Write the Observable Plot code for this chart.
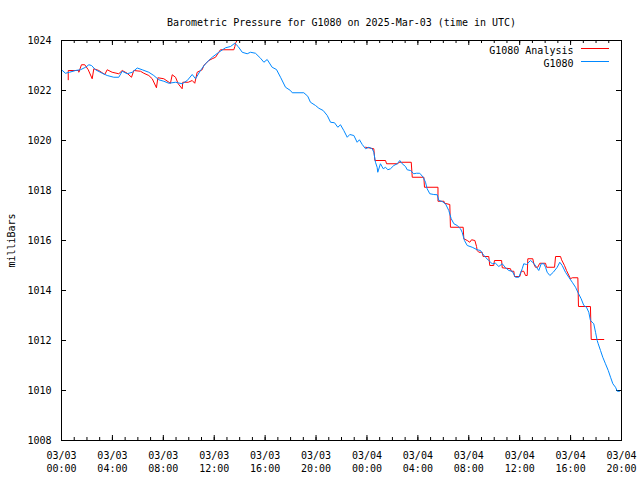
<!DOCTYPE html>
<html><head><meta charset="utf-8">
<script src="https://cdn.jsdelivr.net/npm/d3@7"></script>
<script src="https://cdn.jsdelivr.net/npm/@observablehq/plot@0.6"></script>
<style>body{margin:0;background:#fff}svg{display:block}</style>
</head><body><div id="chart"></div>
<script>
const title = "Barometric Pressure for G1080 on 2025-Mar-03 (time in UTC)";
const yLabel = "milliBars";
const seriesNames = ["G1080 Analysis", "G1080"];
const seriesColors = ["#ff0000", "#0088ff"];
const startTime = Date.UTC(2025, 2, 3, 0, 0);
const endHour = 44;
const yTicks = [1008, 1010, 1012, 1014, 1016, 1018, 1020, 1022, 1024];

// [hours since 03/03 00:00 UTC, millibars]
const g1080 = [
[0.00,1022.83],[0.31,1022.69],[0.63,1022.73],[1.10,1022.80],[1.49,1022.83],[1.89,1022.93],[2.15,1023.03],[2.36,1023.00],
[2.67,1022.83],[3.20,1022.69],[3.59,1022.60],[4.11,1022.53],[4.50,1022.53],[4.77,1022.77],[5.16,1022.67],[5.56,1022.73],
[5.95,1022.90],[6.34,1022.83],[6.86,1022.73],[7.25,1022.60],[7.64,1022.43],[8.04,1022.37],[8.43,1022.29],[8.96,1022.33],
[9.48,1022.27],[9.88,1022.40],[10.27,1022.64],[10.53,1022.47],[10.92,1022.80],[11.31,1023.07],[11.84,1023.33],[12.36,1023.53],
[12.89,1023.71],[13.28,1023.76],[13.62,1023.89],[13.88,1023.76],[14.20,1023.53],[14.59,1023.47],[14.85,1023.53],[15.24,1023.49],
[15.64,1023.29],[15.90,1023.13],[16.16,1023.24],[16.55,1022.93],[16.89,1022.84],[17.21,1022.53],[17.60,1022.13],[17.99,1022.00],
[18.13,1021.91],[19.04,1021.91],[19.35,1021.77],[19.56,1021.53],[19.96,1021.40],[20.22,1021.29],[20.56,1021.20],[20.88,1021.00],
[21.14,1020.73],[21.45,1020.71],[21.71,1020.53],[21.92,1020.63],[22.18,1020.40],[22.45,1020.13],[22.65,1020.24],[22.97,1020.20],
[23.23,1019.93],[23.41,1020.03],[23.63,1019.84],[23.89,1019.67],[24.15,1019.73],[24.41,1019.67],[24.54,1019.53],[24.67,1019.13],
[24.80,1018.93],[24.85,1018.73],[25.06,1019.07],[25.28,1018.87],[25.46,1018.93],[25.64,1018.83],[25.85,1018.87],[26.11,1019.00],
[26.38,1019.07],[26.58,1019.20],[26.77,1019.07],[27.03,1018.96],[27.16,1018.83],[27.42,1018.80],[27.68,1018.67],[27.89,1018.69],
[28.15,1018.69],[28.42,1018.53],[28.60,1018.33],[28.73,1018.07],[28.94,1017.87],[29.25,1017.84],[29.52,1017.83],[29.65,1017.60],
[29.91,1017.56],[30.17,1017.47],[30.43,1017.20],[30.62,1016.87],[30.83,1016.67],[31.09,1016.60],[31.35,1016.47],[31.48,1016.33],
[31.66,1016.00],[31.88,1015.80],[32.27,1015.73],[32.66,1015.63],[32.92,1015.60],[33.05,1015.49],[33.31,1015.33],[33.57,1015.20],
[33.84,1015.07],[34.10,1015.09],[34.36,1014.96],[34.63,1015.07],[34.89,1014.91],[35.15,1014.80],[35.41,1014.77],[35.67,1014.53],
[35.93,1014.53],[36.20,1014.87],[36.32,1015.07],[36.54,1015.04],[36.85,1015.20],[37.11,1015.09],[37.32,1014.93],[37.50,1014.80],
[37.69,1015.07],[37.90,1015.07],[38.03,1014.93],[38.16,1014.73],[38.37,1014.60],[38.64,1014.73],[38.95,1014.93],[39.15,1015.13],
[39.34,1015.00],[39.60,1014.73],[39.86,1014.53],[40.13,1014.33],[40.39,1014.13],[40.57,1013.93],[40.83,1013.67],[41.04,1013.40],
[41.25,1013.33],[41.43,1013.13],[41.56,1012.80],[41.82,1012.67],[41.96,1012.33],[42.09,1012.00],[42.17,1011.87],[42.35,1011.60],
[42.53,1011.33],[42.74,1011.07],[42.96,1010.80],[43.14,1010.53],[43.32,1010.27],[43.53,1010.13],[43.67,1009.97],[43.84,1009.97]
];

// analysis trace; null pressure = gap in the record
const g1080Analysis = [
[0.53,1022.43],[0.53,1022.80],[1.36,1022.80],[1.36,1022.73],[1.57,1023.03],[1.83,1023.03],[2.10,1022.83],[2.41,1022.47],
[2.54,1022.87],[2.93,1022.80],[3.40,1022.64],[3.59,1022.83],[3.98,1022.73],[4.50,1022.67],[4.77,1022.80],[5.16,1022.69],
[5.50,1022.53],[5.68,1022.80],[6.21,1022.77],[6.47,1022.69],[6.86,1022.60],[7.13,1022.47],[7.46,1022.11],[7.57,1022.51],
[8.04,1022.47],[8.56,1022.29],[8.70,1022.63],[8.96,1022.53],[9.17,1022.27],[9.48,1022.07],[9.53,1022.33],[9.96,1022.33],
[10.27,1022.40],[10.47,1022.29],[10.66,1022.73],[11.05,1022.83],[11.18,1023.00],[11.57,1023.20],[11.84,1023.27],[12.10,1023.33],
[12.36,1023.53],[12.49,1023.63],[13.54,1023.63],[13.62,1023.76],[13.67,1023.89],[13.79,1024.00],
[18.00,null],
[23.89,1019.73],[24.54,1019.67],[24.62,1019.20],[25.46,1019.20],[25.54,1019.07],[26.43,1019.07],[26.51,1019.13],[27.48,1019.13],
[27.56,1018.53],[28.47,1018.53],[28.52,1018.13],[29.58,1018.13],[29.58,1017.57],[30.05,1017.57],[30.10,1017.49],[30.51,1017.44],
[30.56,1016.53],[31.56,1016.53],[31.61,1016.07],[31.88,1016.00],[32.08,1015.93],[32.22,1016.03],[32.48,1016.00],[32.61,1015.76],
[32.66,1015.60],[32.79,1015.53],[33.05,1015.53],[33.13,1015.36],[33.57,1015.36],[33.65,1015.00],[33.96,1015.00],[34.02,1015.20],
[34.58,1015.20],[34.63,1014.91],[35.28,1014.87],[35.33,1014.77],[35.54,1014.77],[35.59,1014.56],[36.01,1014.56],[36.12,1014.77],
[36.32,1014.77],[36.46,1014.60],[36.59,1014.60],[36.64,1015.27],[37.03,1015.27],[37.11,1015.07],[37.24,1014.93],[37.42,1014.93],
[37.58,1015.09],[38.03,1015.09],[38.11,1014.93],[38.74,1014.93],[38.82,1015.36],[39.21,1015.36],[39.29,1015.23],[39.52,1015.00],
[39.68,1014.80],[39.99,1014.47],[40.13,1014.51],[40.57,1014.51],[40.62,1013.36],[41.56,1013.36],[41.62,1012.04],[42.61,1012.04]
];

const toDate = h => new Date(startTime + h * 3600e3);
const stationData = g1080.map(([h, p]) => ({t: toDate(h), p}));
const analysisData = g1080Analysis.map(([h, p]) => ({t: toDate(h), p: p == null ? NaN : p}));

const W = 640, H = 480, mL = 61, mR = 19, mT = 40, mB = 40;
const fw = W - mL - mR, fh = H - mT - mB;
const hourTicks = d3.range(0, endHour + 1).map(toDate);
const majorTicks = d3.range(0, endHour + 1, 4).map(toDate);
const font = "'DejaVu Sans Mono', monospace";

const plot = Plot.plot({
  width: W, height: H,
  marginLeft: mL, marginRight: mR, marginTop: mT, marginBottom: mB,
  style: {fontFamily: font, fontSize: "10px", background: "#fff", color: "#000"},
  x: {type: "utc", domain: [toDate(0), toDate(endHour)]},
  y: {domain: [1008, 1024]},
  marks: [
    Plot.axisX({ticks: majorTicks, tickFormat: d3.utcFormat("%m/%d\n%H:%M"), tickSize: 0, tickPadding: 9, lineHeight: 1.3, label: null, fontSize: 10}),
    Plot.axisY({ticks: yTicks, tickFormat: d3.format("d"), tickSize: 0, tickPadding: 10, label: yLabel, labelAnchor: "center", labelOffset: 54, labelArrow: "none", fontSize: 10}),
    // inward ticks on all four sides
    Plot.tickX(hourTicks, {x: d => d, insetTop: fh - 3, stroke: "#000"}),
    Plot.tickX(hourTicks, {x: d => d, insetBottom: fh - 3, stroke: "#000"}),
    Plot.tickX(majorTicks, {x: d => d, insetTop: fh - 5, stroke: "#000"}),
    Plot.tickX(majorTicks, {x: d => d, insetBottom: fh - 5, stroke: "#000"}),
    Plot.tickY(yTicks, {y: d => d, insetRight: fw - 5, stroke: "#000"}),
    Plot.tickY(yTicks, {y: d => d, insetLeft: fw - 5, stroke: "#000"}),
    Plot.line(analysisData, {x: "t", y: "p", stroke: seriesColors[0], strokeWidth: 1, clip: true}),
    Plot.line(stationData, {x: "t", y: "p", stroke: seriesColors[1], strokeWidth: 1, clip: true}),
    Plot.frame({stroke: "#000"}),
    Plot.text([title], {text: d => d, frameAnchor: "top", dy: -22, fontSize: 10}),
    Plot.text([seriesNames[0]], {text: d => d, frameAnchor: "top-right", dx: -48, dy: 6, textAnchor: "end", fontSize: 10}),
    Plot.text([seriesNames[1]], {text: d => d, frameAnchor: "top-right", dx: -48, dy: 19, textAnchor: "end", fontSize: 10})
  ]
});
document.getElementById("chart").appendChild(plot);

// legend samples
const svg = d3.select(plot);
seriesColors.forEach((c, i) => {
  svg.append("line")
    .attr("x1", W - mR - 40).attr("x2", W - mR - 12)
    .attr("y1", mT + 8.5 + 13 * i).attr("y2", mT + 8.5 + 13 * i)
    .attr("stroke", c).attr("stroke-width", 1);
});
</script></body></html>
